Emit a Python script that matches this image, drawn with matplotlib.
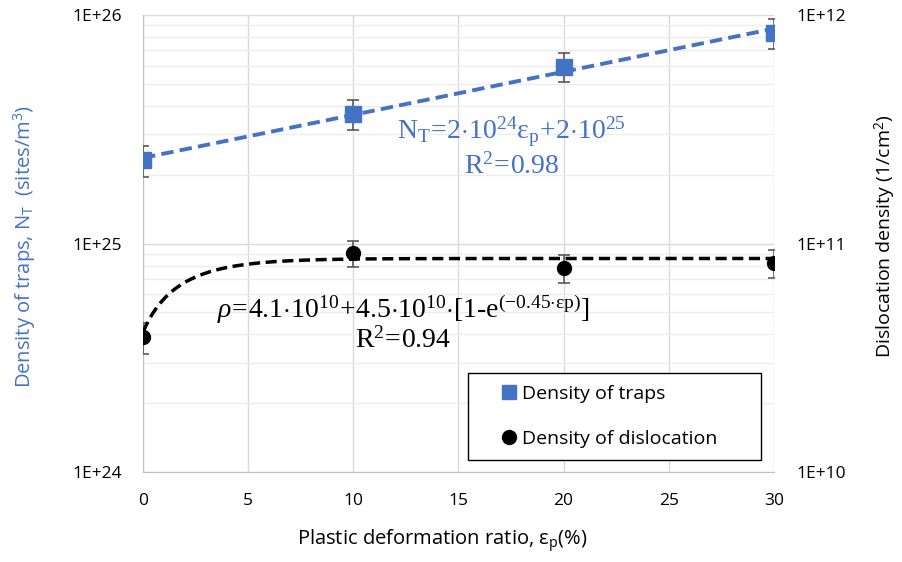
import numpy as np
import matplotlib
matplotlib.use("Agg")
import matplotlib.pyplot as plt
import matplotlib.ticker as ticker
from matplotlib.lines import Line2D

plt.rcParams["font.family"] = ["Open Sans", "DejaVu Sans"]
plt.rcParams["mathtext.fontset"] = "custom"
plt.rcParams["mathtext.rm"] = "Liberation Serif"
plt.rcParams["mathtext.it"] = "Liberation Serif:italic"

# data
strain = [0, 10, 20, 30]
traps = [2.31e25, 3.70e25, 5.95e25, 8.38e25]
traps_err = [0.35e25, 0.55e25, 0.85e25, 1.25e25]
disloc = [3.88e10, 9.10e10, 7.85e10, 8.20e10]
disloc_err = [0.60e10, 1.20e10, 1.10e10, 1.15e10]
fit_a, fit_b, fit_k = 4.1e10, 4.5e10, 0.45
xticks = [0, 5, 10, 15, 20, 25, 30]

BLUE = "#4472C4"
GRID = "#D9D9D9"
MINOR = "#EDEDED"

fig = plt.figure(figsize=(9.03, 5.62), dpi=100)
ax = fig.add_axes([0.1584, 0.1601, 0.6986, 0.8132])
ax2 = ax.twinx()

ax.set_xlim(0, 30)
ax.set_yscale("log"); ax.set_ylim(1e24, 1e26)
ax2.set_yscale("log"); ax2.set_ylim(1e10, 1e12)

# grid
ax.set_xticks(xticks)
ax.yaxis.set_major_locator(ticker.FixedLocator([1e24, 1e25, 1e26]))
ax.yaxis.set_minor_locator(ticker.LogLocator(base=10, subs=np.arange(2, 10)))
ax.yaxis.set_minor_formatter(ticker.NullFormatter())
ax.grid(True, which="major", color=GRID, lw=1.0, zorder=0)
ax.grid(True, which="minor", axis="y", color=MINOR, lw=1.0, zorder=0)
ax.set_axisbelow(True)

fmt = ticker.FuncFormatter(lambda v, p: f"1E+{int(round(np.log10(v)))}")
ax.yaxis.set_major_formatter(fmt)
ax2.yaxis.set_major_locator(ticker.FixedLocator([1e10, 1e11, 1e12]))
ax2.yaxis.set_minor_locator(ticker.NullLocator())
ax2.yaxis.set_major_formatter(fmt)

for a in (ax, ax2):
    for s in ("top", "right"):
        a.spines[s].set_visible(False)
ax2.spines["left"].set_visible(False); ax2.spines["bottom"].set_visible(False)
ax.spines["left"].set_color("#BFBFBF"); ax.spines["bottom"].set_color("#BFBFBF")

ax.tick_params(axis="both", which="both", length=0, labelsize=12.5, colors="#000000")
ax.tick_params(axis="y", pad=15)
ax.tick_params(axis="x", pad=15)
ax2.tick_params(axis="y", which="both", length=0, labelsize=12.5, pad=16)

# traps series + trend (straight on the log axis)
ax.errorbar(strain, traps, yerr=traps_err, fmt="none", ecolor="#595959",
            elinewidth=1.2, capsize=4, capthick=1.2, zorder=3)
m, c = np.polyfit(strain, np.log10(traps), 1)
xx = np.linspace(0, 30, 200)
ax.plot(xx, 10**(m*xx + c), color=BLUE, lw=2.8, ls=(0, (3.2, 1.6)), zorder=4)
ax.plot(strain, traps, ls="none", marker="s", ms=11, color=BLUE, zorder=5)

# dislocation series + saturation fit
ax2.errorbar(strain, disloc, yerr=disloc_err, fmt="none", ecolor="#595959",
             elinewidth=1.2, capsize=4, capthick=1.2, zorder=3)
ax2.plot(xx, fit_a + fit_b*(1 - np.exp(-fit_k*xx)), color="black", lw=2.5,
         ls=(0, (3.2, 1.6)), zorder=4)
ax2.plot(strain, disloc, ls="none", marker="o", ms=10, color="black", zorder=5)

# equations
ax.text(0.584, 0.744, r"$\mathrm{N_T\!=\!2{\cdot}10^{24}ε_p\!+\!2{\cdot}10^{25}}$",
        transform=ax.transAxes, ha="center", va="center", fontsize=20, color=BLUE)
ax.text(0.585, 0.668, r"$\mathrm{R^2\!=\!0.98}$", transform=ax.transAxes,
        ha="center", va="center", fontsize=20, color=BLUE)
ax.text(0.412, 0.356,
        r"$ρ\mathrm{\!=\!4.1{\cdot}10^{10}\!+\!4.5{\cdot}10^{10}{\cdot}[1\text{-}e^{(-0.45{\cdot}εp)}]}$",
        transform=ax.transAxes, ha="center", va="center", fontsize=20, color="black")
ax.text(0.413, 0.287, r"$\mathrm{R^2\!=\!0.94}$", transform=ax.transAxes,
        ha="center", va="center", fontsize=20, color="black")

# axis labels
fig.text(0.49, 0.037, r"Plastic deformation ratio, ε$_\mathregular{p}$(%)",
         ha="center", va="center", fontsize=14.5)
fig.text(0.028, 0.562, r"Density of traps, N$_\mathregular{T}$  (sites/m$^\mathregular{3}$)",
         rotation=90, ha="center", va="center", fontsize=14.5, color=BLUE)
fig.text(0.981, 0.58, r"Dislocation density (1/cm$^\mathregular{2}$)",
         rotation=90, ha="center", va="center", fontsize=14, color="black")

hand = [Line2D([0], [0], ls="none", marker="s", ms=10, color=BLUE, label="Density of traps"),
        Line2D([0], [0], ls="none", marker="o", ms=10, color="black", label="Density of dislocation")]
leg = ax2.legend(handles=hand, loc="center", bbox_to_anchor=(0.515, 0.028, 0.464, 0.188),
                 mode="expand", fontsize=14, frameon=True, fancybox=False,
                 borderpad=0.6, handlelength=3.0, handletextpad=-0.8, labelspacing=1.4,
                 borderaxespad=0)
leg.get_frame().set_edgecolor("black"); leg.get_frame().set_linewidth(1.0)
leg.get_frame().set_alpha(1)

fig.savefig("out.png", dpi=100)
